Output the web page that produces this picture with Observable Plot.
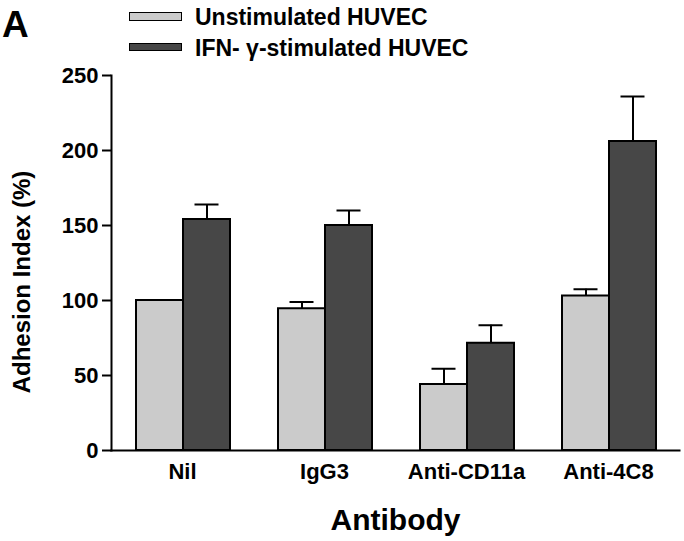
<!DOCTYPE html>
<html>
<head>
<meta charset="utf-8">
<script src="https://cdn.jsdelivr.net/npm/d3@7"></script>
<script src="https://cdn.jsdelivr.net/npm/@observablehq/plot@0.6"></script>
<style>
  html, body { margin: 0; padding: 0; background: #fff; }
  #wrap { position: relative; width: 684px; height: 541px; font-family: "Liberation Sans", Arial, Helvetica, sans-serif; font-weight: bold; color: #000; }
  #chart { position: absolute; left: 0; top: 0; }
  .abs { position: absolute; line-height: 1; white-space: nowrap; }
  .sw { position: absolute; border: 1.5px solid #000; box-sizing: border-box; }
</style>
</head>
<body>
<div id="wrap">
  <div id="chart"></div>
  <div class="abs" id="panel" style="left:2px; top:6px; font-size:37px;">A</div>
  <div id="legend"></div>
</div>
<script>
const antibodies = ["Nil", "IgG3", "Anti-CD11a", "Anti-4C8"];
const conditions = ["Unstimulated HUVEC", "IFN- γ-stimulated HUVEC"];
const unstimMean = [100, 94.5, 44, 103];
const unstimErr  = [0, 4.5, 10.5, 4.5];
const stimMean   = [154, 150, 71.5, 206];
const stimErr    = [10, 10, 12, 30];
const yTicks = [0, 50, 100, 150, 200, 250];
const colors = ["#cbcbcb", "#474747"];

const rows = antibodies.flatMap((a, i) => [
  {antibody: a, condition: conditions[0], mean: unstimMean[i], err: unstimErr[i]},
  {antibody: a, condition: conditions[1], mean: stimMean[i], err: stimErr[i]}
]);
const errRows = rows.filter(d => d.err > 0);

const chart = Plot.plot({
  width: 684,
  height: 541,
  marginTop: 75,
  marginBottom: 91,
  marginLeft: 111,
  marginRight: 5,
  style: {fontFamily: '"Liberation Sans", Arial, Helvetica, sans-serif', fontWeight: "bold", color: "#000", background: "#fff", overflow: "visible"},
  fx: {domain: antibodies, padding: 0, label: null},
  x: {domain: conditions, paddingInner: 0, paddingOuter: 0.495, align: 0.53, axis: null},
  y: {domain: [0, 250], label: null},
  color: {domain: conditions, range: colors},
  marks: [
    Plot.barY(rows, {fx: "antibody", x: "condition", y: "mean", fill: "condition", stroke: "#000", strokeWidth: 2}),
    Plot.ruleX(errRows, {fx: "antibody", x: "condition", y1: "mean", y2: d => d.mean + d.err, stroke: "#000", strokeWidth: 2}),
    Plot.tickY(errRows, {fx: "antibody", x: "condition", y: d => d.mean + d.err, insetLeft: 11.5, insetRight: 11.5, stroke: "#000", strokeWidth: 2}),
    Plot.axisY({ticks: yTicks, tickSize: 9, tickPadding: 4, label: null, strokeWidth: 2, fontSize: 22, fontWeight: "bold"}),
    Plot.axisFx({anchor: "bottom", tickSize: 0, tickPadding: 13, label: null, fontSize: 22, fontWeight: "bold"}),
    Plot.frame({anchor: "left", facet: "super", stroke: "#000", strokeWidth: 2}),
    Plot.frame({anchor: "bottom", facet: "super", stroke: "#000", strokeWidth: 2}),
    Plot.text(["Antibody"], {frameAnchor: "bottom", dy: 79, facet: "super", fontSize: 30, fontWeight: "bold"}),
    Plot.text(["Adhesion Index (%)"], {frameAnchor: "left", textAnchor: "middle", rotate: -90, dx: -89, dy: 19, facet: "super", fontSize: 24, fontWeight: "bold"})
  ]
});
document.getElementById("chart").appendChild(chart);

// Legend
const legend = document.getElementById("legend");
const legendRows = [{sy: 12, ty: 6}, {sy: 42.5, ty: 36.5}];
conditions.forEach((c, i) => {
  const sw = document.createElement("div");
  sw.className = "sw";
  sw.style.left = "129px";
  sw.style.top = legendRows[i].sy + "px";
  sw.style.width = "53px";
  sw.style.height = "8.5px";
  sw.style.background = colors[i];
  legend.appendChild(sw);
  const t = document.createElement("div");
  t.className = "abs";
  t.style.left = "195px";
  t.style.top = legendRows[i].ty + "px";
  t.style.fontSize = "23px";
  t.textContent = c;
  legend.appendChild(t);
});
</script>
</body>
</html>
